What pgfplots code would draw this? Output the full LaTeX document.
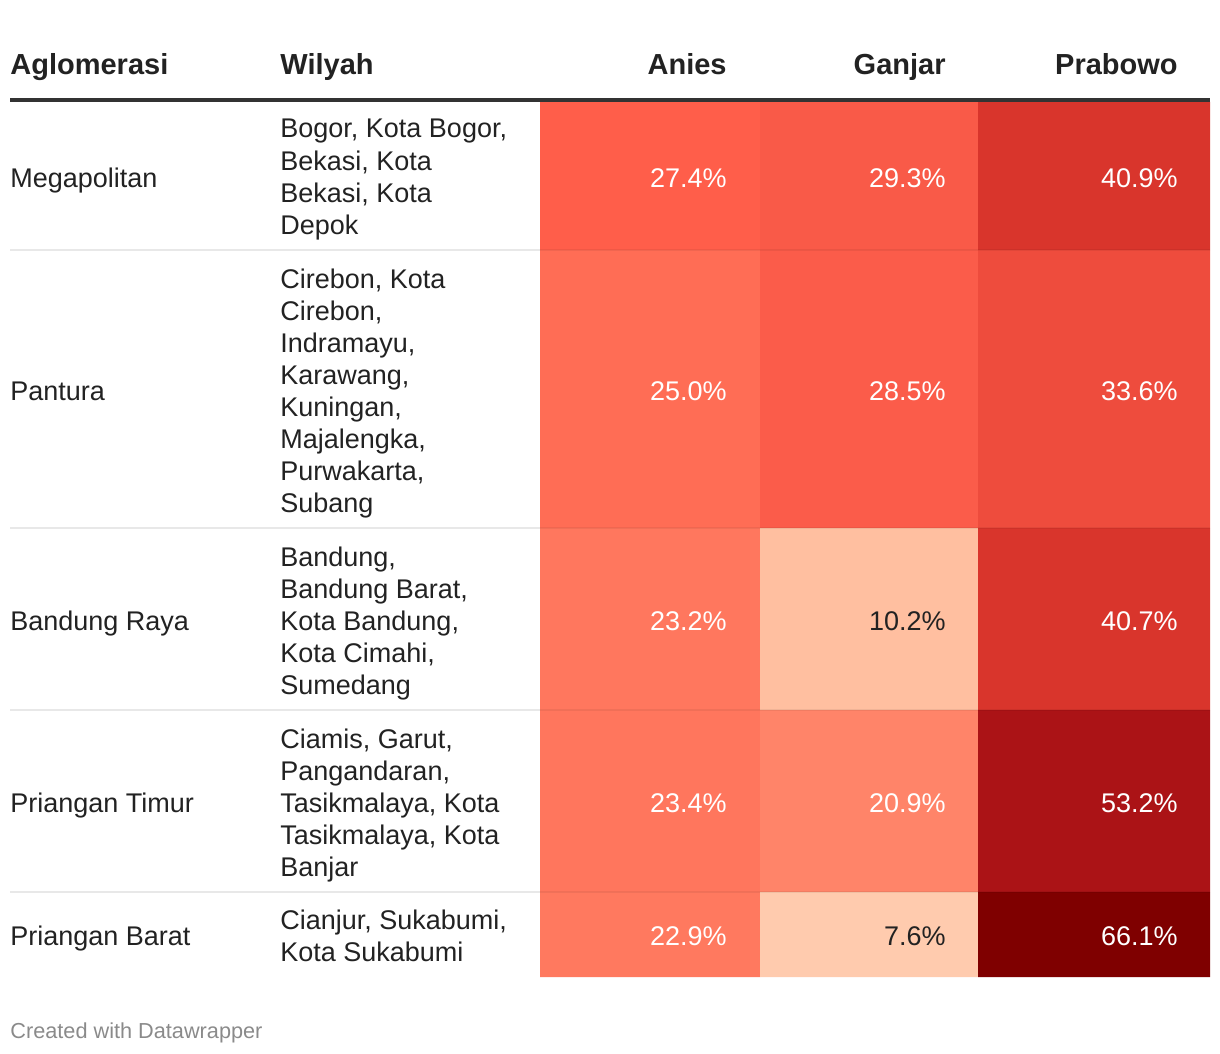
\documentclass[border=0pt]{standalone}
\usepackage{fontspec}
\setmainfont{Liberation Sans}
\usepackage{pgfplots}
\pgfplotsset{compat=1.18}
\definecolor{txt}{HTML}{222222}
\definecolor{rule}{HTML}{333333}
\definecolor{sep}{HTML}{E8E8E8}
\definecolor{foot}{HTML}{8A8A8A}
% cell colours
\definecolor{cA1}{HTML}{FF5E4A}\definecolor{cG1}{HTML}{F95A48}\definecolor{cP1}{HTML}{D9352C}
\definecolor{cA2}{HTML}{FF6D55}\definecolor{cG2}{HTML}{FB5C4A}\definecolor{cP2}{HTML}{EE4C3D}
\definecolor{cA3}{HTML}{FF775E}\definecolor{cG3}{HTML}{FFBFA0}\definecolor{cP3}{HTML}{D9352C}
\definecolor{cA4}{HTML}{FF765D}\definecolor{cG4}{HTML}{FF8469}\definecolor{cP4}{HTML}{AB1316}
\definecolor{cA5}{HTML}{FF795F}\definecolor{cG5}{HTML}{FFCBAE}\definecolor{cP5}{HTML}{7F0000}
\newcommand\cell[5]{\addplot[draw=none, fill=#5, forget plot] coordinates {(#1,#3) (#2,#3) (#2,#4) (#1,#4) (#1,#3)};}
\newcommand\body{\fontsize{13.5}{16}\selectfont}
\newcommand\head{\fontsize{14.5}{17}\selectfont\bfseries}
\newcommand\tline[3]{\node[anchor=base west, text=txt, font=\body, inner sep=0pt] at (axis cs:#1,#2) {#3};}
\begin{document}
\begin{tikzpicture}
\begin{axis}[scale only axis, width=610pt, height=527pt,
  xmin=0, xmax=1220, ymin=0, ymax=1054, y dir=reverse,
  hide axis, clip=false]
% cells: x0 x1 y0 y1
\cell{540}{760}{102}{250}{cA1}\cell{760}{978}{102}{250}{cG1}\cell{978}{1210}{102}{250}{cP1}
\cell{540}{760}{250}{528}{cA2}\cell{760}{978}{250}{528}{cG2}\cell{978}{1210}{250}{528}{cP2}
\cell{540}{760}{528}{710}{cA3}\cell{760}{978}{528}{710}{cG3}\cell{978}{1210}{528}{710}{cP3}
\cell{540}{760}{710}{892}{cA4}\cell{760}{978}{710}{892}{cG4}\cell{978}{1210}{710}{892}{cP4}
\cell{540}{760}{892}{977}{cA5}\cell{760}{978}{892}{977}{cG5}\cell{978}{1210}{892}{977}{cP5}
% row separators
\addplot[sep, line width=1pt, forget plot] coordinates {(10,250) (540,250)};
\addplot[sep, line width=1pt, forget plot] coordinates {(10,528) (540,528)};
\addplot[sep, line width=1pt, forget plot] coordinates {(10,710) (540,710)};
\addplot[sep, line width=1pt, forget plot] coordinates {(10,892) (540,892)};
\addplot[black, opacity=0.06, line width=1pt, forget plot] coordinates {(540,250) (1210,250)};
\addplot[black, opacity=0.06, line width=1pt, forget plot] coordinates {(540,528) (1210,528)};
\addplot[black, opacity=0.06, line width=1pt, forget plot] coordinates {(540,710) (1210,710)};
\addplot[black, opacity=0.06, line width=1pt, forget plot] coordinates {(540,892) (1210,892)};
% header rule
\addplot[rule, line width=2pt, forget plot] coordinates {(10,100) (1210,100)};
% values (white)
\addplot[only marks, mark=text, text mark={},
  point meta=explicit symbolic, nodes near coords,
  nodes near coords style={anchor=base east, text=white, font=\body, inner sep=0pt}]
  coordinates {
  (727,187)[27.4\%] (946,187)[29.3\%] (1178,187)[40.9\%]
  (727,400)[25.0\%] (946,400)[28.5\%] (1178,400)[33.6\%]
  (727,630)[23.2\%] (1178,630)[40.7\%]
  (727,812)[23.4\%] (946,812)[20.9\%] (1178,812)[53.2\%]
  (727,945)[22.9\%] (1178,945)[66.1\%]
  };
% values (dark)
\addplot[only marks, mark=text, text mark={},
  point meta=explicit symbolic, nodes near coords,
  nodes near coords style={anchor=base east, text=txt, font=\body, inner sep=0pt}]
  coordinates {(946,630)[10.2\%] (946,945)[7.6\%]};
% header
\node[anchor=base west, text=txt, font=\head, inner sep=0pt] at (axis cs:10,75) {Aglomerasi};
\node[anchor=base west, text=txt, font=\head, inner sep=0pt] at (axis cs:280,75) {Wilyah};
\node[anchor=base east, text=txt, font=\head, inner sep=0pt] at (axis cs:727,75) {Anies};
\node[anchor=base east, text=txt, font=\head, inner sep=0pt] at (axis cs:946,75) {Ganjar};
\node[anchor=base east, text=txt, font=\head, inner sep=0pt] at (axis cs:1178,75) {Prabowo};
% row labels
\tline{10}{187}{Megapolitan}
\tline{10}{400}{Pantura}
\tline{10}{630}{Bandung Raya}
\tline{10}{812}{Priangan Timur}
\tline{10}{945}{Priangan Barat}
% wilayah
\tline{280}{138}{Bogor, Kota Bogor,}
\tline{280}{170}{Bekasi, Kota}
\tline{280}{202}{Bekasi, Kota}
\tline{280}{234}{Depok}
\tline{280}{288}{Cirebon, Kota}
\tline{280}{320}{Cirebon,}
\tline{280}{352}{Indramayu,}
\tline{280}{384}{Karawang,}
\tline{280}{416}{Kuningan,}
\tline{280}{448}{Majalengka,}
\tline{280}{480}{Purwakarta,}
\tline{280}{512}{Subang}
\tline{280}{566}{Bandung,}
\tline{280}{598}{Bandung Barat,}
\tline{280}{630}{Kota Bandung,}
\tline{280}{662}{Kota Cimahi,}
\tline{280}{694}{Sumedang}
\tline{280}{748}{Ciamis, Garut,}
\tline{280}{780}{Pangandaran,}
\tline{280}{812}{Tasikmalaya, Kota}
\tline{280}{844}{Tasikmalaya, Kota}
\tline{280}{876}{Banjar}
\tline{280}{929}{Cianjur, Sukabumi,}
\tline{280}{961}{Kota Sukabumi}
% footer
\node[anchor=base west, text=foot, font=\fontsize{10.85}{12}\selectfont, inner sep=0pt] at (axis cs:10,1038) {Created with Datawrapper};
\end{axis}
\pgfresetboundingbox
\path[use as bounding box] (0,0) rectangle (610pt,527pt);
\end{tikzpicture}
\end{document}
